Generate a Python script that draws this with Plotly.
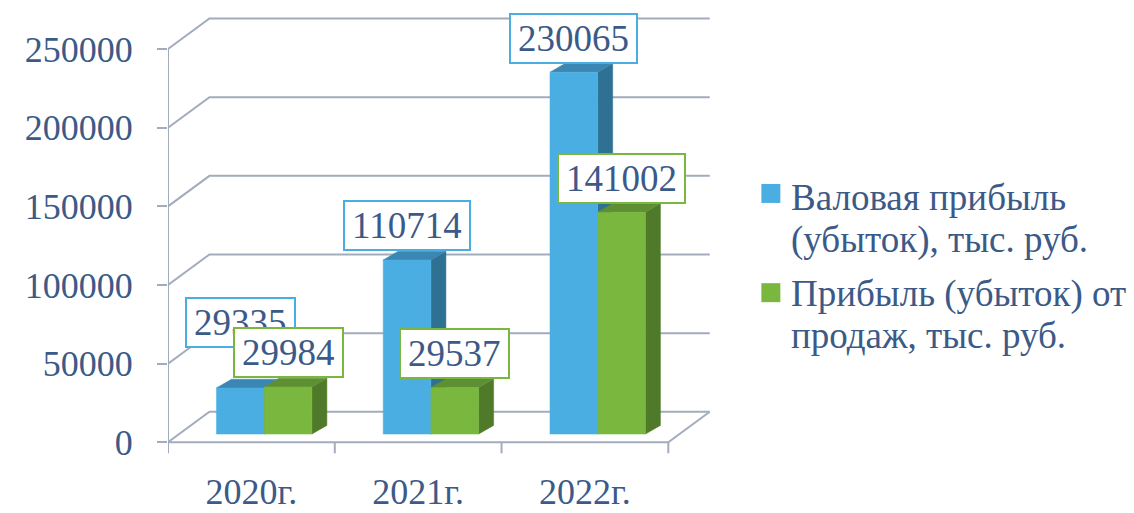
import plotly.graph_objects as go

# ---------------- data ----------------
categories = ["2020г.", "2021г.", "2022г."]
series_names = ["Валовая прибыль (убыток), тыс. руб.", "Прибыль (убыток) от продаж, тыс. руб."]
legend_lines = [["Валовая прибыль", "(убыток), тыс. руб."], ["Прибыль (убыток) от", "продаж, тыс. руб."]]
gross_profit = [29335, 110714, 230065]
sales_profit = [29984, 29537, 141002]
y_ticks = [0, 50000, 100000, 150000, 200000, 250000]
y_tick_text = ["0", "50000", "100000", "150000", "200000", "250000"]

# ---------------- styles / geometry ----------------
W, H = 1134, 513
FONT = "Liberation Serif"
TXT = "#3C5A88"
GRID = "#A3ACBD"
FRONT = ["#4BAEE2", "#7AB73F"]
SIDE = ["#2E7193", "#4E7A29"]
TOP = ["#3A87B3", "#5E8F33"]

K = 78.7 / 50000.0          # px per value unit
CAT = 167.0                 # px per category
X0_PX = 167.5               # px of x = -0.5
Y0_PX = 442.5               # px of value 0
XR = [-0.5, 2.78]
YR = [-10000, 278000]
PW = (XR[1] - XR[0]) * CAT
PH = (YR[1] - YR[0]) * K
L = X0_PX
BOT = Y0_PX - YR[0] * K
T = BOT - PH
R = W - L - PW
B = H - BOT

WDX = 41.5 / CAT            # wall depth (x)
WDY = 30.5 / K              # wall depth (y)
BACK_RIGHT = 2.5 + WDX
BOFF = 8.2 / K              # bar front plane lift
BW = 47.8 / CAT             # bar width
BLEFT = -35.0 / CAT         # first bar left from category centre
BDX = 15.0 / CAT            # bar depth x
BDY = 8.7 / K               # bar depth y
TICK_DOWN = 11.0 / K

label_lift = [[40.0, 8.5, 8.5], [8.5, 8.5, 8.5]]


def px_x(p):
    return (p - L) / PW


def px_y(p):
    return (BOT - p) / PH


fig = go.Figure()

# gridlines on walls
gx, gy = [], []
for v in y_ticks:
    gx += [-0.5, -0.5 + WDX, BACK_RIGHT, None]
    gy += [v, v + WDY, v + WDY, None]
# front-left vertical edge
gx += [-0.5, -0.5, None]
gy += [0, y_ticks[-1], None]
# floor front and right edges
gx += [-0.5, 2.5, BACK_RIGHT, None]
gy += [0, 0, WDY, None]
# category boundary ticks
for b in range(len(categories) + 1):
    gx += [b - 0.5, b - 0.5, None]
    gy += [0, -TICK_DOWN, None]
fig.add_trace(go.Scatter(x=gx, y=gy, mode="lines", line=dict(color=GRID, width=2),
                         hoverinfo="skip", showlegend=False))


def poly(xs, ys, color):
    fig.add_trace(go.Scatter(x=xs + [xs[0]], y=ys + [ys[0]], mode="lines", fill="toself",
                             fillcolor=color, line=dict(color=color, width=0.5),
                             hoverinfo="skip", showlegend=False))


series = [gross_profit, sales_profit]
for i, cat in enumerate(categories):
    for s, vals in enumerate(series):
        v = vals[i]
        xl = i + BLEFT + s * BW
        xr = xl + BW
        yb = BOFF
        yt = v + BOFF
        poly([xr, xr + BDX, xr + BDX, xr], [yb, yb + BDY, yt + BDY, yt], SIDE[s])
        poly([xl, xr, xr + BDX, xl + BDX], [yt, yt, yt + BDY, yt + BDY], TOP[s])
        poly([xl, xr, xr, xl], [yb, yb, yt, yt], FRONT[s])

annotations = []
for s, vals in enumerate(series):
    for i, v in enumerate(vals):
        annotations.append(dict(
            x=i + BLEFT + s * BW + BW / 2, y=v + BOFF, xref="x", yref="y",
            text=str(v), showarrow=False, xanchor="center", yanchor="bottom",
            yshift=label_lift[s][i], font=dict(family=FONT, size=37, color=TXT),
            bgcolor="white", bordercolor=FRONT[s], borderwidth=2, borderpad=7, height=33))

# legend
shapes = []
sq_top = [184, 283.3]
line_mid = [[198, 240], [294, 336]]
for s in range(2):
    shapes.append(dict(type="rect", xref="paper", yref="paper",
                       x0=px_x(761.7), x1=px_x(780.7), y0=px_y(sq_top[s] + 19), y1=px_y(sq_top[s]),
                       fillcolor=FRONT[s], line=dict(width=0)))
    for j, ln in enumerate(legend_lines[s]):
        annotations.append(dict(x=px_x(789), y=px_y(line_mid[s][j]), xref="paper", yref="paper",
                                text=ln, showarrow=False, xanchor="left", yanchor="middle",
                                font=dict(family=FONT, size=37, color=TXT)))

fig.update_layout(
    width=W, height=H, margin=dict(l=L, r=R, t=T, b=B, pad=0, autoexpand=False),
    paper_bgcolor="white", plot_bgcolor="white", showlegend=False,
    annotations=annotations, shapes=shapes,
    xaxis=dict(range=XR, showgrid=False, zeroline=False, showline=False, automargin=False,
               tickvals=[0, 1, 2], ticktext=categories, ticks="outside", ticklen=2,
               tickcolor="rgba(0,0,0,0)", tickfont=dict(family=FONT, size=36, color=TXT)),
    yaxis=dict(range=YR, showgrid=False, zeroline=False, showline=False, automargin=False,
               tickvals=y_ticks, ticktext=y_tick_text, ticks="outside", ticklen=10,
               ticklabelstandoff=17,
               tickwidth=2, tickcolor=GRID, tickfont=dict(family=FONT, size=36, color=TXT)),
)

fig.write_html("out.html", config={"displayModeBar": False},
               post_script="document.body.style.margin='0';document.body.style.overflow='hidden';")
